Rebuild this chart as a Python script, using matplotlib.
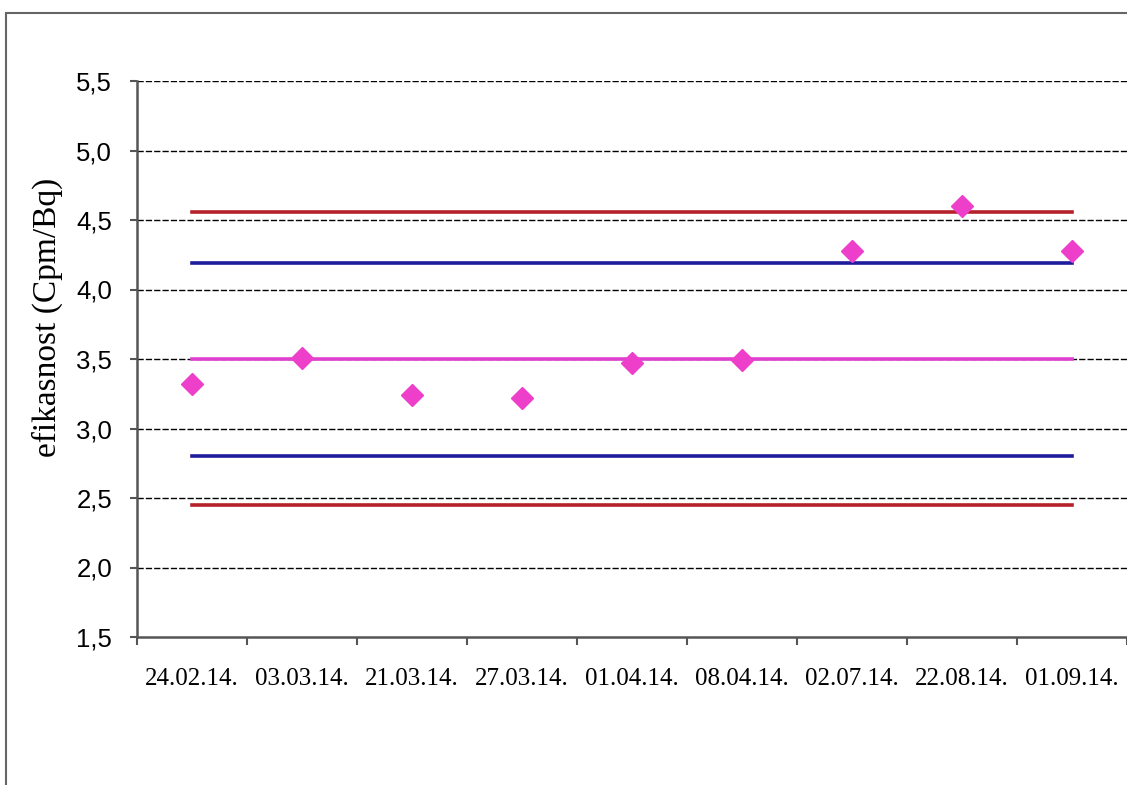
import numpy as np
import matplotlib
matplotlib.use("Agg")
import matplotlib.pyplot as plt
from matplotlib.patches import Rectangle

# measurement dates and efficiency values
dates = ['24.02.14.', '03.03.14.', '21.03.14.', '27.03.14.', '01.04.14.',
         '08.04.14.', '02.07.14.', '22.08.14.', '01.09.14.']
efficiency = [3.32, 3.51, 3.24, 3.22, 3.47, 3.49, 4.28, 4.60, 4.28]

# control chart limits
mean_value = 3.50
warn_upper = 4.19
warn_lower = 2.80
action_upper = 4.56
action_lower = 2.45

fig = plt.figure(figsize=(11.27, 7.85), dpi=100)
ax = fig.add_axes([137 / 1127, (785 - 637) / 785, 1 - 137 / 1127, (637 - 81) / 785])

x = np.arange(len(dates))

# grid lines
for yv in np.arange(2.0, 5.51, 0.5):
    ax.axhline(yv, color='black', lw=1.0, ls=(0, (4.5, 1.5)), zorder=1)

ax.plot(x, [action_upper] * len(x), color='#b5202a', lw=2.6, zorder=2)
ax.plot(x, [warn_upper] * len(x), color='#1c1c9c', lw=2.6, zorder=2)
ax.plot(x, [mean_value] * len(x), color='#e040d0', lw=2.6, zorder=2)
ax.plot(x, [warn_lower] * len(x), color='#1c1c9c', lw=2.6, zorder=2)
ax.plot(x, [action_lower] * len(x), color='#b5202a', lw=2.6, zorder=2)

ax.plot(x, efficiency, ls='none', marker='D', ms=11.5, color='#ee3fcb',
        markeredgecolor='#ee3fcb', zorder=3)

ax.set_xlim(-0.5, len(dates) - 0.5)
ax.set_ylim(1.5, 5.5)
ax.set_yticks(np.arange(1.5, 5.51, 0.5))
ax.set_yticklabels([f'{v:.1f}'.replace('.', ',') for v in np.arange(1.5, 5.51, 0.5)],
                   fontsize=18.5, family='Liberation Sans')

ax.set_xticks(np.arange(-0.5, len(dates), 1.0))
ax.set_xticklabels([])
ax.set_xticks(x, minor=True)
ax.set_xticklabels(dates, minor=True, fontsize=18, family='Liberation Serif')
ax.tick_params(axis='x', which='major', direction='out', length=6, width=1.5, color='#555555')
ax.tick_params(axis='x', which='minor', length=0, pad=22)
ax.tick_params(axis='y', direction='out', length=5, width=1.5, color='#555555', pad=13)

for side in ['top', 'right']:
    ax.spines[side].set_visible(False)
for side in ['left', 'bottom']:
    ax.spines[side].set_color('#555555')
    ax.spines[side].set_linewidth(1.8)

ax.set_ylabel('efikasnost (Cpm/Bq)', fontsize=24, family='Liberation Serif')
ax.yaxis.set_label_coords((63 - 137) / 990, (637 - 317) / 556)

# outer frame of the chart area
fig.patches.append(Rectangle((6 / 1127, -0.1), 1.2, (785 - 13) / 785 + 0.1,
                             transform=fig.transFigure, fill=False,
                             edgecolor='#666666', lw=1.5))

fig.savefig('out.png', dpi=100)
